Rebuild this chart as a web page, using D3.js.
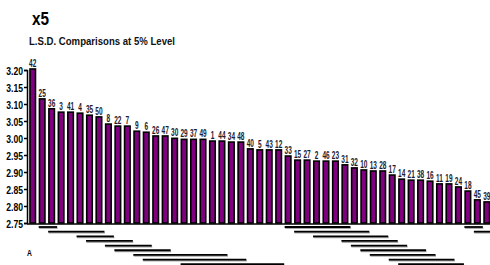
<!DOCTYPE html>
<html>
<head>
<meta charset="utf-8">
<script src="https://cdn.jsdelivr.net/npm/d3@7"></script>
<style>
  body { margin: 0; background: #fff; }
  text { font-family: "Liberation Sans", Arial, sans-serif; }
</style>
</head>
<body>
<script>
// treatment labels, sorted by mean
const treatments = ["42","25","36","3","41","4","35","50","8","22","7","9","6","26","47","30","29","37","49","1",
  "44","34","48","40","5","43","12","33","15","27","2","46","23","31","32","10","13","28","17","14",
  "21","38","16","11","19","24","18","45","39"];
const means = [3.203,3.115,3.086,3.076,3.076,3.073,3.067,3.062,3.041,3.035,3.035,3.020,3.017,3.006,3.006,2.999,2.996,2.996,2.996,2.991,
  2.991,2.988,2.988,2.968,2.965,2.965,2.965,2.947,2.935,2.935,2.932,2.932,2.932,2.921,2.912,2.906,2.903,2.903,2.891,2.879,
  2.876,2.876,2.873,2.865,2.865,2.856,2.844,2.818,2.812];
const yTicks = [2.75, 2.80, 2.85, 2.90, 2.95, 3.00, 3.05, 3.10, 3.15, 3.20];

// LSD grouping lines: first bar index, last bar index, row
const grpStart = [1, 2, 5, 6, 8, 9, 11, 12, 16, 27, 46, 28, 47, 30, 33, 34, 35, 36, 38, 39];
const grpEnd   = [2, 7, 8, 10, 12, 14, 20, 22, 26, 33, 47, 35, 48, 37, 38, 39, 41, 42, 44, 45];
const grpRow   = [0, 1, 2, 3, 4, 5, 6, 7, 8, 0, 0, 1, 1, 2, 3, 4, 5, 6, 7, 8];

const w = 490, h = 265;
const svg = d3.select("body").append("svg").attr("width", w).attr("height", h);

const x = d3.scaleBand().domain(d3.range(treatments.length))
  .range([28, 28 + 49 * 9.46]).paddingInner(0.26).paddingOuter(0.13);
const y = d3.scaleLinear().domain([2.75, 3.20]).range([223, 70]);

svg.append("text").attr("transform", "translate(32,25) scale(0.85,1)")
  .attr("font-size", 18).attr("font-weight", "bold").text("x5");
svg.append("text").attr("x", 29).attr("y", 45)
  .attr("font-size", 11).attr("font-weight", "bold").attr("fill", "#111")
  .attr("textLength", 146).attr("lengthAdjust", "spacingAndGlyphs")
  .text("L.S.D. Comparisons at 5% Level");

// y axis
const yAxis = d3.axisLeft(y).tickValues(yTicks).tickFormat(d3.format(".2f"))
  .tickSize(3).tickPadding(1);
const ga = svg.append("g").attr("transform", "translate(27,0)").call(yAxis);
ga.select(".domain").attr("stroke", "#000").attr("stroke-width", 1.5);
ga.selectAll(".tick line").attr("stroke-width", 1.5);
ga.selectAll(".tick text")
  .attr("font-size", 11.5).attr("font-weight", "bold").attr("fill", "#000")
  .attr("font-family", "'Liberation Sans',Arial,sans-serif")
  .attr("x", null).attr("dy", null)
  .attr("transform", "translate(-4,4) scale(0.75,1)");

// bars
const bw = x.bandwidth();
svg.selectAll(".bar").data(means).enter().append("rect")
  .attr("class", "bar")
  .attr("x", (d, i) => x(i) + 0.75)
  .attr("y", d => y(d))
  .attr("width", bw - 1.5)
  .attr("height", d => y(2.75) - y(d))
  .attr("fill", "#800080")
  .attr("stroke", "#000")
  .attr("stroke-width", 1.6);

svg.append("line").attr("x1", 27).attr("x2", w).attr("y1", y(2.75) + 1).attr("y2", y(2.75) + 1)
  .attr("stroke", "#000").attr("stroke-width", 1.5);

// bar labels
svg.selectAll(".lab").data(means).enter().append("text")
  .attr("class", "lab")
  .attr("transform", (d, i) => `translate(${x(i) + bw / 2},${y(d) - 2}) scale(0.62,1)`)
  .attr("text-anchor", "middle")
  .attr("font-size", 10.5)
  .attr("font-weight", "bold")
  .attr("fill", "#1c1c30")
  .text((d, i) => treatments[i]);

// grouping lines
const rowY = r => 227 + r * 4.65;
const grp = d3.range(grpStart.length);
svg.selectAll(".shadow").data(grp).enter().append("line")
  .attr("x1", i => x(grpStart[i]) + 0.5).attr("x2", i => x(grpEnd[i]) + bw + 2.5)
  .attr("y1", i => rowY(grpRow[i]) + 1.2).attr("y2", i => rowY(grpRow[i]) + 1.2)
  .attr("stroke", "#aaa").attr("stroke-width", 1.5);
svg.selectAll(".grp").data(grp).enter().append("line")
  .attr("x1", i => x(grpStart[i])).attr("x2", i => x(grpEnd[i]) + bw + 2)
  .attr("y1", i => rowY(grpRow[i])).attr("y2", i => rowY(grpRow[i]))
  .attr("stroke", "#000").attr("stroke-width", 1.8);

svg.append("text").attr("transform", "translate(27,256) scale(0.75,1)")
  .attr("font-size", 9).attr("font-weight", "bold").text("A");
</script>
</body>
</html>
